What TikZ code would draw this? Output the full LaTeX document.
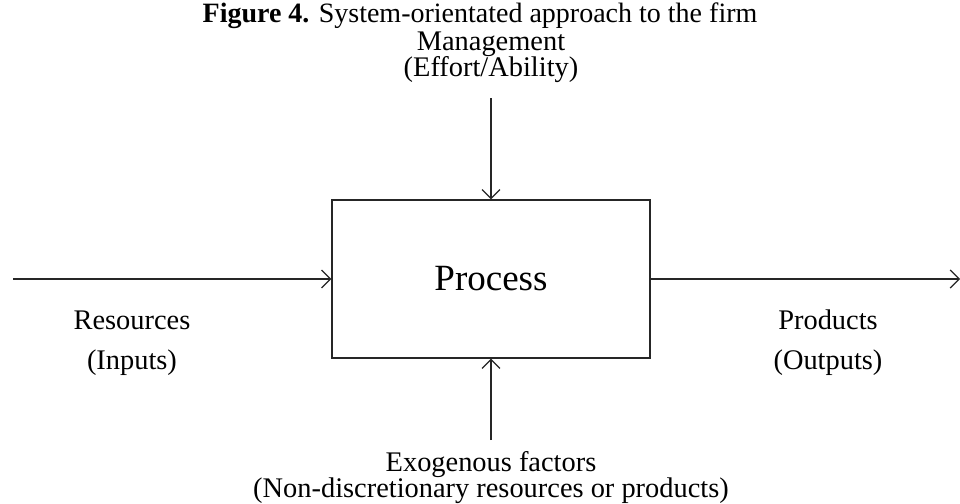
\documentclass[tikz,border=0pt]{standalone}
\usepackage{fontspec}
\setmainfont{Liberation Serif}
\usetikzlibrary{arrows.meta}

\tikzset{
  flow/.style={-{Straight Barb[length=4.5pt,width=9pt]},line width=0.6pt,draw=black!85},
  lbl/.style={font=\fontsize{14.2}{17}\selectfont,inner sep=0pt,anchor=base},
}

\begin{document}
\begin{tikzpicture}[x=0.5pt,y=-0.5pt]
    \useasboundingbox (0,0) rectangle (960,504);

    % title
    \node[font=\fontsize{14}{16}\selectfont,inner sep=0pt,anchor=base] (title) at (480,22)
        {\textbf{Figure 4.} System-orientated approach to the firm};

    % the firm as a box
    \node[draw=black!85,line width=0.6pt,minimum width=159pt,minimum height=79pt,
          font=\fontsize{18.5}{22}\selectfont] (proc) at (491,279) {Process};

    % management on top
    \node[lbl] (mgmt) at (491,50) {Management};
    \node[lbl] (effort) at (491,76) {(Effort/Ability)};
    \coordinate (mgmtend) at (491,98);
    \draw[flow] (mgmtend) -- (proc.north);

    % exogenous factors below
    \node[lbl] (exo) at (491,471) {Exogenous factors};
    \node[lbl] (nondisc) at (491,497) {(Non-discretionary resources or products)};
    \coordinate (exoend) at (491,440);
    \draw[flow] (exoend) -- (proc.south);

    % inputs
    \coordinate (instart) at (13,279);
    \draw[flow] (instart) -- (proc.west);
    \node[lbl] (res) at (132,329) {Resources};
    \node[lbl] (inp) at (132,369) {(Inputs)};

    % outputs
    \coordinate (outend) at (960,279);
    \draw[flow] (proc.east) -- (outend);
    \node[lbl] (prod) at (828,329) {Products};
    \node[lbl] (outp) at (828,369) {(Outputs)};
\end{tikzpicture}
\end{document}
